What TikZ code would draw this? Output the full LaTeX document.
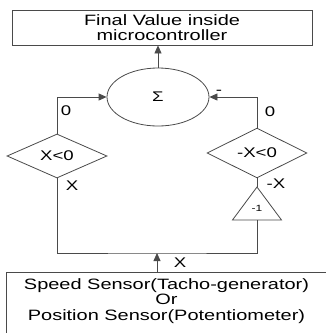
\documentclass[tikz,border=0pt]{standalone}
\usepackage{fontspec}
\newfontfamily\diagfont[FakeStretch=1.33]{Liberation Sans}
\usetikzlibrary{arrows.meta,shapes.geometric}
\definecolor{wirecol}{HTML}{4A4A4A}
\tikzset{
  blk/.style    ={draw=wirecol,line width=0.8pt,inner sep=0pt,align=center,
                  font=\diagfont\fontsize{15}{15.5}\selectfont},
  sumnode/.style={draw=wirecol,line width=0.8pt,ellipse,minimum width=102pt,minimum height=58pt,
                  font=\diagfont\fontsize{14}{14}\selectfont},
  cmp/.style    ={draw=wirecol,line width=0.8pt,diamond,minimum width=100pt,minimum height=44pt,
                  inner sep=0pt,font=\diagfont\fontsize{14}{14}\selectfont},
  wire/.style   ={draw=wirecol,line width=0.8pt},
  ar/.style     ={-{Triangle[length=8pt,width=7pt]}},
  tag/.style    ={font=\diagfont\fontsize{14}{14}\selectfont,inner sep=1pt},
}

\begin{document}
\begin{tikzpicture}[x=1pt,y=-1pt]
  \useasboundingbox (0,0) rectangle (326,333);
  \clip (0,0) rectangle (326,333);
  \node[blk,minimum width=300pt,minimum height=35pt] (final) at (162,27.5)
    {Final Value inside\\microcontroller};
  \node[sumnode] (sum) at (158,97) {Σ};
  \node[cmp] (pos) at (57,156) {X<0};
  \node[cmp] (neg) at (257,153) {-X<0};
  % gain of -1
  \coordinate (gtop) at (257,187);
  \coordinate (gbase) at (257,220);
  \draw[wire] (gtop) -- ++(24.5,33) -- ++(-49,0) -- cycle;
  \node[tag,font=\diagfont\fontsize{9}{9}\selectfont] (gain) at (257,208) {-1};
  \node[blk,anchor=north,minimum width=321pt,inner ysep=6pt,text depth=55pt] (sensor) at (166.5,272)
    {Speed Sensor(Tacho-generator)\\Or\\Position Sensor(Potentiometer)};
  \coordinate (tap) at (157,253);

  \draw[wire,ar] (sum.north) -- (sum.north |- final.south);
  \draw[wire,ar] (pos.north) |- (sum.west);
  \draw[wire,ar] (neg.north) |- (sum.east);
  \draw[wire] (neg.south) -- (gtop);
  \draw[wire] (pos.south) |- (tap) -| (gbase);
  \draw[wire,ar] (tap |- sensor.north) -- (tap);

  \node[tag] (zl) at (66,111) {0};
  \node[tag] (zr) at (270,112) {0};
  \node[tag] (minus) at (219,92) {-};
  \node[tag] (xl) at (72,186) {X};
  \node[tag] (xr) at (276,184) {-X};
  \node[tag] (xin) at (180,263) {X};
\end{tikzpicture}
\end{document}
